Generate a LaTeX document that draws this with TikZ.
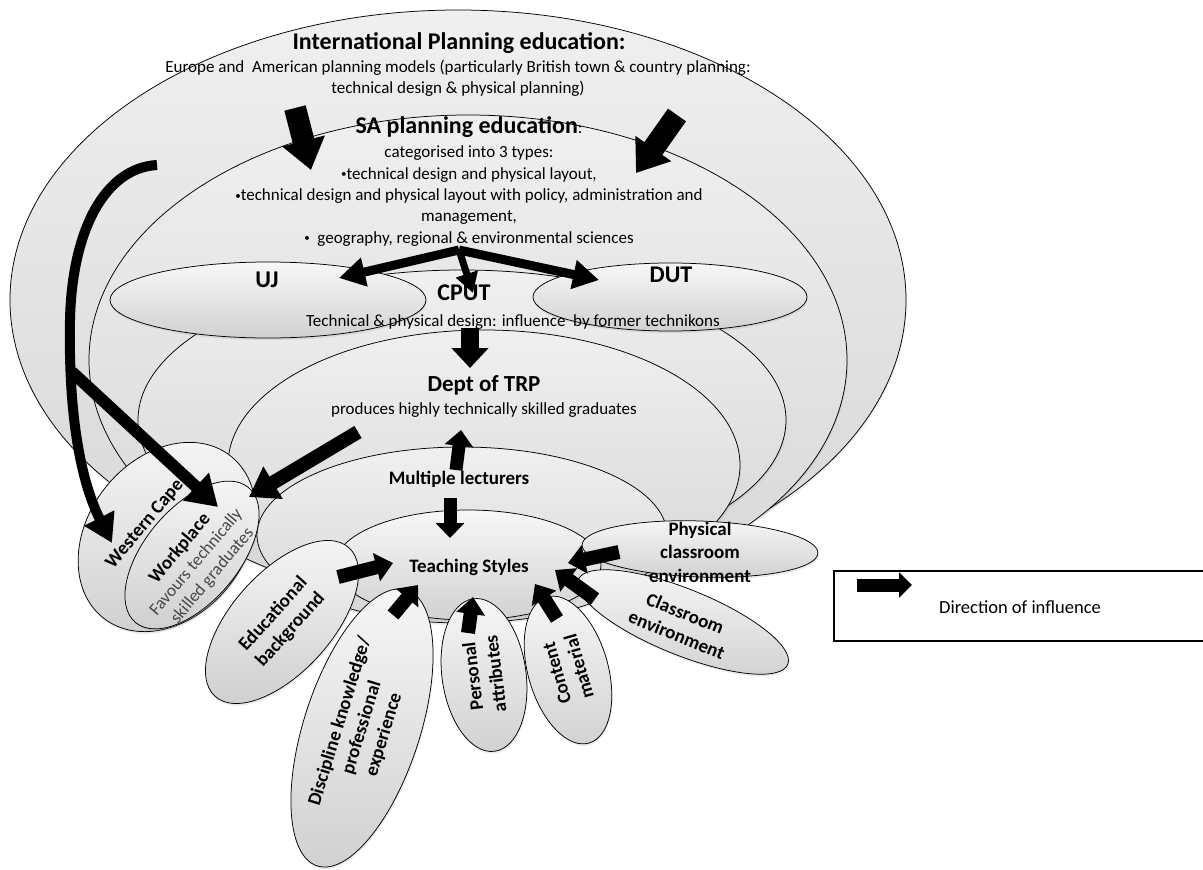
\documentclass[tikz,border=0pt]{standalone}
\usepackage{fontspec}
\setmainfont{Carlito}
\usetikzlibrary{shapes.geometric,arrows.meta,shadows}
\newcommand\listdot{\raisebox{1.4pt}{\fontsize{11}{11}\selectfont •}}

\begin{document}
\begin{tikzpicture}[x=1pt,y=-1pt,
  oval/.style={ellipse, draw=black, line width=0.75pt, inner sep=0pt, outer sep=0pt,
    top color=black!3, bottom color=black!18,
    drop shadow={opacity=0.16, shadow xshift=0.8pt, shadow yshift=-2.2pt}},
  ring/.style={oval, top color=black!6, bottom color=black!16},
  body/.style={inner sep=0pt, align=center, font=\fontsize{17}{21.3}\selectfont},
  head/.style={inner sep=0pt, font=\bfseries\fontsize{24}{28}\selectfont},
  tag/.style={inner sep=0pt, align=center, font=\bfseries\fontsize{19}{23}\selectfont},
  flow/.style n args={3}{draw=black, line width=#1, -{Triangle[width=#2,length=#3]}},
]
\useasboundingbox (0,0) rectangle (1203,870);

% nested planning-education levels
\node[ring, minimum width=896pt, minimum height=580pt] (intl) at (458,300) {};
\node[ring, minimum width=758pt, minimum height=490pt] (sa) at (468,360) {};
\node[ring, minimum width=648pt, minimum height=300pt] (cput) at (462,420) {};
\node[oval, minimum width=316pt, minimum height=76pt] (uj) at (268,300) {};
\node[oval, minimum width=274pt, minimum height=68pt] (dut) at (670,297) {};
\node[ring, minimum width=512pt, minimum height=270pt] (trp) at (484,465) {};
\node[ring, minimum width=410pt, minimum height=176pt] (lect) at (462,535) {};

% region and workplace
\node[oval, minimum width=206pt, minimum height=158pt, rotate=52] (wcape) at (167,537) {};
\node[oval, minimum width=176pt, minimum height=94pt, rotate=50] (work) at (192,555) {};

% teaching styles and their influences
\node[oval, minimum width=266pt, minimum height=110pt] (teach) at (468,565) {};
\node[oval, minimum width=236pt, minimum height=56pt, rotate=-2] (phys) at (700,549) {};
\node[oval, minimum width=226pt, minimum height=66pt, rotate=-22] (clenv) at (683,622) {};
\node[oval, minimum width=200pt, minimum height=100pt, rotate=48] (edu) at (282,622) {};
\node[oval, minimum width=290pt, minimum height=116pt, rotate=72] (disc) at (362,728) {};
\node[oval, minimum width=154pt, minimum height=84pt, rotate=98] (pers) at (484,675) {};
\node[oval, minimum width=152pt, minimum height=80pt, rotate=106] (cont) at (568,670) {};

% texts
\node[head] (intlhd) at (459,43) {International Planning education:};
\node[body] (intltx) at (458,78) {Europe and\ \ American planning models (particularly British town \& country planning:\\technical design \& physical planning)};
\node[head] (sahd) at (469,127) {SA planning education{\mdseries\fontsize{17}{21}\selectfont :}};
\node[body] (satx) at (469,196) {categorised into 3 types:\\\listdot technical design and physical layout,\\\listdot technical design and physical layout with policy, administration and\\management,\\\listdot\ \ geography, regional \& environmental sciences};
\node[head] (ujlbl) at (267,280) {UJ};
\node[head] (dutlbl) at (671,275) {DUT};
\node[head] (cputlbl) at (464,293) {CPUT};
\node[body] (cputtx) at (513,322) {Technical \& physical design: influence\ \ by former technikons};
\node[head, font=\bfseries\fontsize{23}{27}\selectfont] (trphd) at (484,385) {Dept of TRP};
\node[body] (trptx) at (484,410) {produces highly technically skilled graduates};
\node[tag] (lecthd) at (459,479) {Multiple lecturers};
\node[tag] (teachhd) at (469,567) {Teaching Styles};
\node[tag, rotate=50] (wclbl) at (145,524) {Western Cape};
\node[tag, rotate=50] (worklbl) at (196,562) {Workplace\\[-2pt]{\mdseries\color{black!72}\fontsize{17.5}{21}\selectfont Favours technically}\\[-2pt]{\mdseries\color{black!72}\fontsize{17.5}{21}\selectfont skilled graduates}};
\node[tag, rotate=48] (edulbl) at (edu.center) {Educational\\background};
\node[tag, rotate=73] (disclbl) at (disc.center) {Discipline knowledge/\\professional\\experience};
\node[tag, rotate=97] (perslbl) at (pers.center) {Personal\\attributes};
\node[tag, rotate=106] (contlbl) at (cont.center) {Content\\material};
\node[tag, rotate=-22] (clenvlbl) at (681,624) {Classroom\\environment};
\node[tag, font=\bfseries\fontsize{19}{23.5}\selectfont] (physlbl) at (700,552) {Physical\\classroom\\environment};

% arrow end points
\coordinate (i1) at (295,108);  \coordinate (s1) at (311,170);
\coordinate (i2) at (677,115);  \coordinate (s2) at (636,173);
\coordinate (fork) at (459,250);
\coordinate (ujtip) at (339,278);
\coordinate (duttip) at (599,280);
\coordinate (cputtip) at (473,293);
\coordinate (c1) at (470,328);  \coordinate (t1) at (470,368);
\coordinate (t2) at (358,432);  \coordinate (w1) at (249,497);
\coordinate (l1) at (456,470);  \coordinate (t3) at (461,430);
\coordinate (l2) at (450,498);  \coordinate (ts1) at (450,538);
\coordinate (sacurve) at (157,165);
\coordinate (branch) at (72,372);
\coordinate (wctip) at (112,543);
\coordinate (wktip) at (218,507);
\coordinate (e1) at (338,577);  \coordinate (ts2) at (393,563);
\coordinate (d1) at (393,615);  \coordinate (ts3) at (418,585);
\coordinate (p1) at (468,633);  \coordinate (ts4) at (473,597);
\coordinate (m1) at (557,619);  \coordinate (ts5) at (535,584);
\coordinate (ce1) at (595,599); \coordinate (ts6) at (555,570);
\coordinate (pc1) at (619,552); \coordinate (ts7) at (568,563);

% directions of influence
\draw[flow={22pt}{42pt}{30pt}] (i1) -- (s1);
\draw[flow={22pt}{42pt}{30pt}] (i2) -- (s2);
\draw[flow={9pt}{28pt}{26pt}] (fork) -- (ujtip);
\draw[flow={9pt}{28pt}{26pt}] (fork) -- (duttip);
\draw[flow={7pt}{22pt}{20pt}] (fork) -- (cputtip);
\draw[flow={18pt}{36pt}{20pt}] (c1) -- (t1);
\draw[flow={14pt}{36pt}{28pt}] (t2) -- (w1);
\draw[flow={13pt}{28pt}{16pt}] (l1) -- (t3);
\draw[flow={13pt}{28pt}{15pt}] (l2) -- (ts1);
\draw[flow={10pt}{32pt}{28pt}] (sacurve) .. controls (105,168) and (72,230) .. (70,320)
      .. controls (68,430) and (85,490) .. (wctip);
\draw[flow={12pt}{36pt}{30pt}] (branch) -- (wktip);
\draw[flow={14pt}{28pt}{17pt}] (e1) -- (ts2);
\draw[flow={14pt}{28pt}{17pt}] (d1) -- (ts3);
\draw[flow={14pt}{28pt}{17pt}] (p1) -- (ts4);
\draw[flow={14pt}{28pt}{17pt}] (m1) -- (ts5);
\draw[flow={14pt}{28pt}{17pt}] (ce1) -- (ts6);
\draw[flow={14pt}{28pt}{17pt}] (pc1) -- (ts7);

% legend
\node[draw=black, line width=2.2pt, fill=white, anchor=north west, minimum width=380pt, minimum height=70pt, inner sep=0pt] (legend) at (833,570) {};
\coordinate (legtail) at (857,585);
\coordinate (leghead) at (912,585);
\draw[flow={13pt}{25pt}{13pt}] (legtail) -- (leghead);
\node[body, font=\fontsize{18.5}{22}\selectfont] (legtx) at (1020,607) {Direction of influence};
\end{tikzpicture}
\end{document}
